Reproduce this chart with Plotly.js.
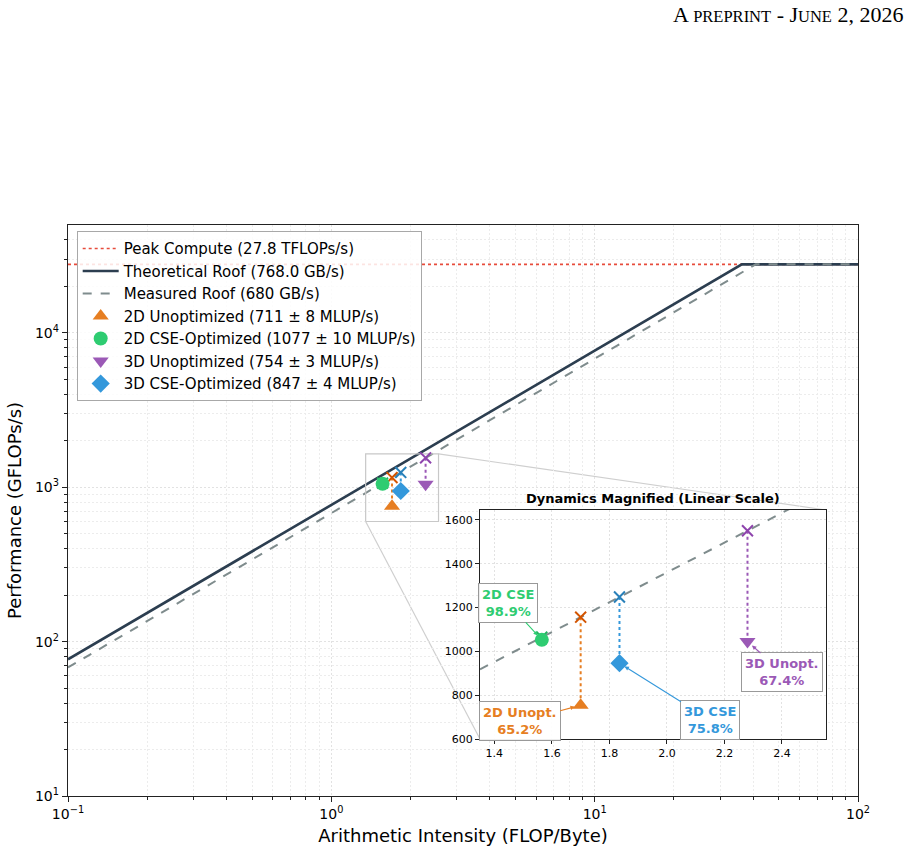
<!DOCTYPE html>
<html>
<head>
<meta charset="utf-8">
<script src="https://cdn.plot.ly/plotly-3.0.1.min.js"></script>
<style>
  html, body { margin: 0; padding: 0; background: #fff; }
  #chart { width: 912px; height: 855px; }
</style>
</head>
<body>
<div id="chart"></div>
<script>
// Hardware ceilings
const peakComputeGflops = 27800;     // 27.8 TFLOP/s
const theoreticalBandwidth = 768.0;  // GB/s
const measuredBandwidth = 680;       // GB/s

// Arithmetic-intensity span of the main plot (FLOP/Byte)
const intensityRange = [0.1, 100];
const perfRange = [10, 50000];

// Kernel variants
const caseLabels = ['2D Unopt.', '2D CSE', '3D Unopt.', '3D CSE'];
const legendNames = [
  '2D Unoptimized (711 ± 8 MLUP/s)',
  '2D CSE-Optimized (1077 ± 10 MLUP/s)',
  '3D Unoptimized (754 ± 3 MLUP/s)',
  '3D CSE-Optimized (847 ± 4 MLUP/s)'
];
const intensity = [1.70, 1.565, 2.28, 1.835];        // FLOP/Byte
const efficiencyPct = [65.2, 98.9, 67.4, 75.8];      // % of measured roof
const markerSymbols = ['triangle-up', 'circle', 'triangle-down', 'diamond'];
const markerColors = ['#e67e22', '#2ecc71', '#9b59b6', '#3498db'];
const roofMarkColors = ['#d35400', '#27ae60', '#8e44ad', '#2980b9'];

// Zoomed window (linear scale)
const zoomX = [1.35, 2.553];
const zoomY = [600, 1645];

// Attainable performance on the measured roof and achieved performance
const attainable = intensity.map(ai => ai * measuredBandwidth);
const achieved = attainable.map((p, i) => p * efficiencyPct[i] / 100);

const ridgeTheo = peakComputeGflops / theoreticalBandwidth;
const ridgeMeas = peakComputeGflops / measuredBandwidth;

const traces = [];

// Roofs (main axes)
traces.push({
  x: intensityRange, y: [peakComputeGflops, peakComputeGflops],
  mode: 'lines', name: 'Peak Compute (27.8 TFLOPs/s)',
  line: { color: '#e74c3c', width: 1.6, dash: 'dot' },
  xaxis: 'x', yaxis: 'y'
});
traces.push({
  x: [intensityRange[0], ridgeTheo, intensityRange[1]],
  y: [intensityRange[0] * theoreticalBandwidth, peakComputeGflops, peakComputeGflops],
  mode: 'lines', name: 'Theoretical Roof (768.0 GB/s)',
  line: { color: '#2c3e50', width: 2.6 },
  xaxis: 'x', yaxis: 'y'
});
traces.push({
  x: [intensityRange[0], ridgeMeas, intensityRange[1]],
  y: [intensityRange[0] * measuredBandwidth, peakComputeGflops, peakComputeGflops],
  mode: 'lines', name: 'Measured Roof (680 GB/s)',
  line: { color: '#7f8c8d', width: 2, dash: 'dash' },
  xaxis: 'x', yaxis: 'y'
});

// Zoom window outline on the main axes
traces.push({
  x: [zoomX[0], zoomX[1], zoomX[1], zoomX[0], zoomX[0]],
  y: [zoomY[0], zoomY[0], zoomY[1], zoomY[1], zoomY[0]],
  mode: 'lines', showlegend: false, hoverinfo: 'skip',
  line: { color: '#c8c8c8', width: 1.2 },
  xaxis: 'x', yaxis: 'y'
});

function addPoints(xa, ya, withLegend, size) {
  for (let i = 0; i < intensity.length; i++) {
    // drop line from roof to measurement
    traces.push({
      x: [intensity[i], intensity[i]], y: [attainable[i], achieved[i]],
      mode: 'lines', showlegend: false, hoverinfo: 'skip',
      line: { color: markerColors[i], width: 2, dash: 'dot' },
      xaxis: xa, yaxis: ya
    });
    // attainable point on the measured roof
    traces.push({
      x: [intensity[i]], y: [attainable[i]],
      mode: 'markers', showlegend: false, hoverinfo: 'skip',
      marker: { symbol: 'x-thin-open', size: size * 0.78, color: roofMarkColors[i],
                line: { width: 2, color: roofMarkColors[i] } },
      xaxis: xa, yaxis: ya
    });
  }
  for (let i = 0; i < intensity.length; i++) {
    traces.push({
      x: [intensity[i]], y: [achieved[i]],
      mode: 'markers', name: legendNames[i], showlegend: withLegend,
      marker: { symbol: markerSymbols[i], size: size, color: markerColors[i], line: { width: 0 } },
      xaxis: xa, yaxis: ya
    });
  }
}
addPoints('x', 'y', true, 14);

// Inset: measured roof over the zoom window
traces.push({
  x: zoomX, y: zoomX.map(ai => ai * measuredBandwidth),
  mode: 'lines', showlegend: false, hoverinfo: 'skip',
  line: { color: '#7f8c8d', width: 2, dash: 'dash' },
  xaxis: 'x2', yaxis: 'y2'
});
addPoints('x2', 'y2', false, 14);

// Log-axis tick helpers
const sup = n => (n < 0 ? '\u2212' + Math.abs(n) : '' + n);
function decadeTicks(lo, hi) {
  const vals = [], text = [], minor = [];
  for (let e = lo; e <= hi; e++) {
    vals.push(Math.pow(10, e));
    text.push('10<sup>' + sup(e) + '</sup>');
    if (e < hi) for (let d = 2; d <= 9; d++) minor.push(d * Math.pow(10, e));
  }
  return { vals, text, minor };
}
const xt = decadeTicks(-1, 2);
const yt = decadeTicks(1, 4);
yt.minor.push(20000, 30000, 40000);

const gridMajor = '#e2e2e2';
const gridMinor = '#ececec';
const gridDash = '2px,2px';
const baseFont = { family: 'DejaVu Sans, sans-serif', color: '#000' };

// Inset placement (paper coordinates of the main plot area)
const insetX = [0.5215, 0.9595];
const insetY = [0.0998, 0.5009];

const logPaper = (v, r) => (Math.log10(v) - Math.log10(r[0])) / (Math.log10(r[1]) - Math.log10(r[0]));

const sc = s => '<span style="font-size:16.5px">' + s + '</span>';
const annotations = [
  {
    text: 'A ' + sc('PREPRINT') + ' - J' + sc('UNE') + ' 2, 2026',
    xref: 'paper', yref: 'paper', x: 1.0595, y: 1.369, xanchor: 'right', yanchor: 'middle',
    showarrow: false, font: { family: 'Liberation Serif, serif', size: 22, color: '#000' }
  },
  {
    text: '<b>Dynamics Magnified (Linear Scale)</b>',
    xref: 'paper', yref: 'paper', x: (insetX[0] + insetX[1]) / 2, y: insetY[1],
    xanchor: 'center', yanchor: 'bottom', yshift: 2, showarrow: false,
    font: Object.assign({}, baseFont, { size: 13 })
  }
];

// Callout boxes for each variant (pixel offsets of the box from its marker)
const calloutOffsets = [[-61, 16], [-34, -37], [35, 31], [91, 57]];
for (let i = 0; i < intensity.length; i++) {
  annotations.push({
    xref: 'x2', yref: 'y2', x: intensity[i], y: achieved[i],
    ax: calloutOffsets[i][0], ay: calloutOffsets[i][1],
    text: '<b>' + caseLabels[i] + '</b><br><b>' + efficiencyPct[i].toFixed(1) + '%</b>',
    showarrow: true, arrowhead: 2, arrowsize: 0.8, arrowwidth: 1.1,
    arrowcolor: markerColors[i], standoff: 6,
    font: Object.assign({}, baseFont, { size: 13, color: markerColors[i] }),
    bgcolor: 'rgba(255,255,255,0.92)', bordercolor: '#999', borderwidth: 1, borderpad: 3
  });
}

// Connectors from zoom window to inset corners
const shapes = [
  {
    type: 'line', xref: 'paper', yref: 'paper', layer: 'below',
    x0: logPaper(zoomX[1], intensityRange), y0: logPaper(zoomY[1], perfRange),
    x1: insetX[1], y1: insetY[1],
    line: { color: '#cfcfcf', width: 1.2 }
  },
  {
    type: 'line', xref: 'paper', yref: 'paper', layer: 'below',
    x0: logPaper(zoomX[0], intensityRange), y0: logPaper(zoomY[0], perfRange),
    x1: insetX[0], y1: insetY[0],
    line: { color: '#cfcfcf', width: 1.2 }
  }
];

const layout = {
  width: 912, height: 855,
  margin: { l: 68, r: 54, t: 225, b: 59 },
  paper_bgcolor: '#fff', plot_bgcolor: '#fff',
  font: Object.assign({}, baseFont, { size: 14 }),
  showlegend: true,
  legend: {
    x: 0.011, y: 0.989, xanchor: 'left', yanchor: 'top',
    bgcolor: 'rgba(255,255,255,0.85)', bordercolor: '#a8a8a8', borderwidth: 1,
    font: Object.assign({}, baseFont, { size: 15 }),
    itemwidth: 36
  },
  xaxis: {
    type: 'log', range: [Math.log10(intensityRange[0]), Math.log10(intensityRange[1])],
    domain: [0, 1], anchor: 'y',
    tickmode: 'array', tickvals: xt.vals, ticktext: xt.text,
    ticks: 'outside', ticklen: 5, tickwidth: 1, tickcolor: '#222',
    showgrid: true, gridcolor: gridMajor, griddash: gridDash, gridwidth: 1,
    minor: { tickmode: 'array', tickvals: xt.minor, ticks: 'outside', ticklen: 3,
             tickcolor: '#222', showgrid: true, gridcolor: gridMinor, griddash: gridDash },
    showline: true, linecolor: '#222', linewidth: 1.2, mirror: true, zeroline: false,
    tickfont: { size: 14 },
    title: { text: 'Arithmetic Intensity (FLOP/Byte)', font: { size: 18 }, standoff: 8 }
  },
  yaxis: {
    type: 'log', range: [Math.log10(perfRange[0]), Math.log10(perfRange[1])],
    domain: [0, 1], anchor: 'x',
    tickmode: 'array', tickvals: yt.vals, ticktext: yt.text,
    ticks: 'outside', ticklen: 5, tickwidth: 1, tickcolor: '#222',
    showgrid: true, gridcolor: gridMajor, griddash: gridDash, gridwidth: 1,
    minor: { tickmode: 'array', tickvals: yt.minor, ticks: 'outside', ticklen: 3,
             tickcolor: '#222', showgrid: true, gridcolor: gridMinor, griddash: gridDash },
    showline: true, linecolor: '#222', linewidth: 1.2, mirror: true, zeroline: false,
    tickfont: { size: 14 },
    title: { text: 'Performance (GFLOPs/s)', font: { size: 18 }, standoff: 8 }
  },
  xaxis2: {
    type: 'linear', range: zoomX, domain: insetX, anchor: 'y2',
    tick0: 1.4, dtick: 0.2, tickformat: '.1f',
    ticks: 'outside', ticklen: 4, tickcolor: '#222',
    showgrid: true, gridcolor: gridMajor, griddash: gridDash,
    showline: true, linecolor: '#222', linewidth: 1, mirror: true, zeroline: false,
    tickfont: { size: 11 }
  },
  yaxis2: {
    type: 'linear', range: zoomY, domain: insetY, anchor: 'x2',
    tick0: 600, dtick: 200,
    ticks: 'outside', ticklen: 4, tickcolor: '#222',
    showgrid: true, gridcolor: gridMajor, griddash: gridDash,
    showline: true, linecolor: '#222', linewidth: 1, mirror: true, zeroline: false,
    tickfont: { size: 11 }
  },
  annotations: annotations,
  shapes: shapes
};

Plotly.newPlot('chart', traces, layout, { displayModeBar: false, staticPlot: true });
</script>
</body>
</html>
